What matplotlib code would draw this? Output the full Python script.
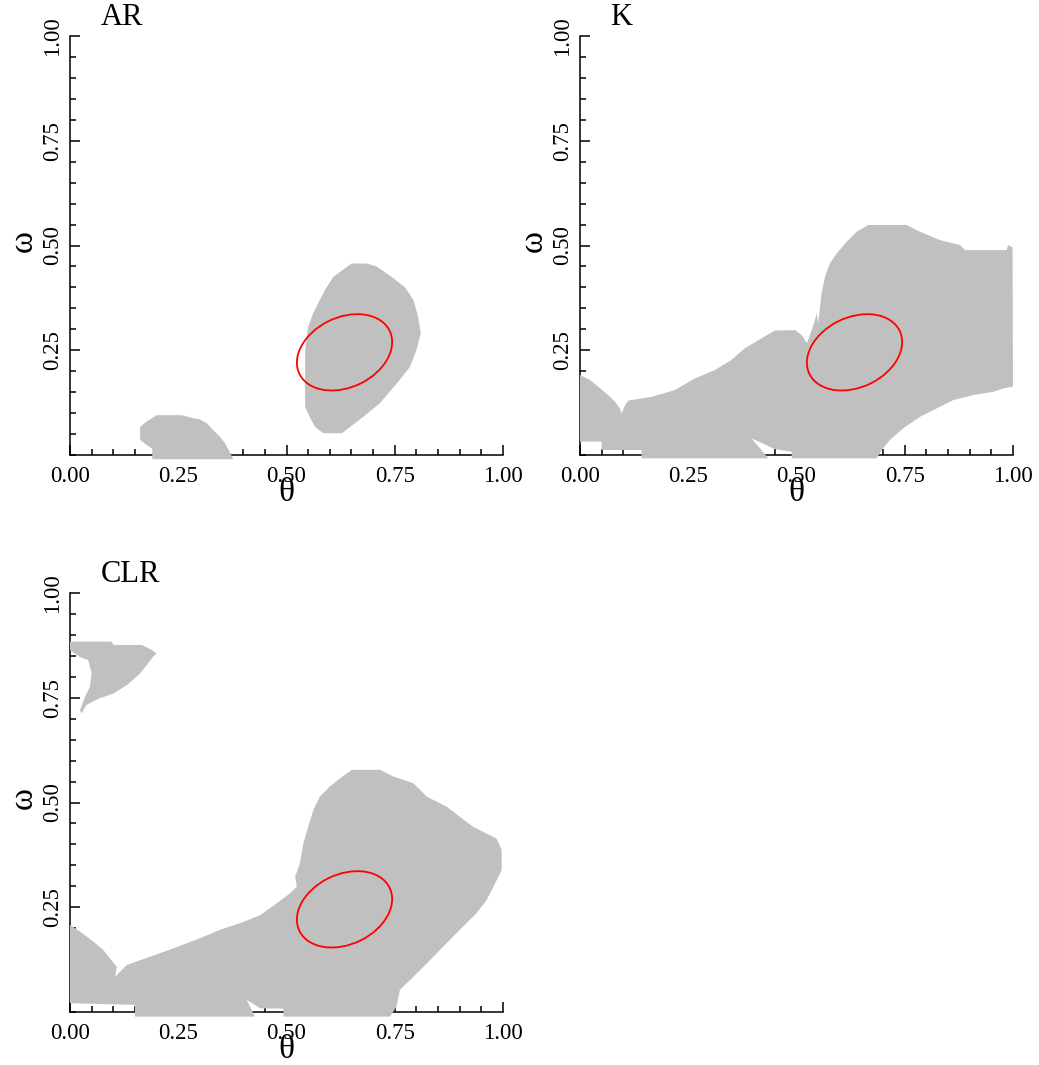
import numpy as np
import matplotlib
matplotlib.use("Agg")
import matplotlib.pyplot as plt
from matplotlib.patches import Ellipse
from matplotlib.ticker import MultipleLocator

plt.rcParams['font.family'] = ['Liberation Serif', 'DejaVu Serif']

# ---- data (theta, omega) ----
# AR: two grey regions
ar_big_theta = [0.650, 0.685, 0.708, 0.743, 0.774, 0.793, 0.804, 0.810, 0.800, 0.785, 0.755,
                0.716, 0.677, 0.647, 0.628, 0.585, 0.566, 0.554, 0.543, 0.543, 0.550, 0.562,
                0.577, 0.589, 0.608]
ar_big_omega = [0.457, 0.457, 0.450, 0.425, 0.400, 0.370, 0.330, 0.290, 0.250, 0.210, 0.171,
                0.124, 0.091, 0.067, 0.052, 0.052, 0.067, 0.090, 0.115, 0.250, 0.306, 0.339,
                0.370, 0.394, 0.425]
ar_small_theta = [0.200, 0.258, 0.270, 0.284, 0.300, 0.316, 0.330, 0.346, 0.358, 0.370, 0.377,
                  0.190, 0.190, 0.177, 0.162, 0.162, 0.177]
ar_small_omega = [0.095, 0.095, 0.092, 0.088, 0.085, 0.076, 0.060, 0.044, 0.028, 0.005, -0.010,
                  -0.010, 0.015, 0.024, 0.036, 0.067, 0.080]

# K: one grey region
k_theta = [0.000, 0.023, 0.042, 0.065, 0.081, 0.092, 0.096, 0.104, 0.112, 0.166, 0.219, 0.266,
           0.312, 0.350, 0.381, 0.412, 0.450, 0.497, 0.512, 0.524, 0.531, 0.539, 0.547, 0.550,
           0.558, 0.566, 0.577, 0.593, 0.616, 0.639, 0.666, 0.754, 0.785, 0.831, 0.878, 0.889,
           0.985, 0.989, 0.999, 1.000, 0.978, 0.955, 0.908, 0.862, 0.831, 0.785, 0.747, 0.716,
           0.697, 0.685, 0.489, 0.489, 0.450, 0.396, 0.435, 0.142, 0.142, 0.050, 0.050, 0.000]
k_omega = [0.191, 0.179, 0.163, 0.143, 0.127, 0.111, 0.099, 0.119, 0.130, 0.139, 0.155, 0.183,
           0.203, 0.227, 0.255, 0.274, 0.297, 0.298, 0.286, 0.267, 0.286, 0.310, 0.338, 0.314,
           0.386, 0.426, 0.457, 0.481, 0.509, 0.533, 0.549, 0.549, 0.533, 0.513, 0.501, 0.489,
           0.489, 0.501, 0.496, 0.163, 0.159, 0.151, 0.143, 0.131, 0.115, 0.091, 0.064, 0.036,
           0.012, -0.008, -0.008, 0.008, 0.014, 0.040, -0.008, -0.008, 0.012, 0.012, 0.032, 0.032]

# CLR: two grey regions
clr_top_theta = [0.000, 0.096, 0.100, 0.166, 0.189, 0.200, 0.192, 0.162, 0.131, 0.100, 0.069,
                 0.038, 0.027, 0.023, 0.035, 0.046, 0.050, 0.042, 0.023, 0.000]
clr_top_omega = [0.884, 0.884, 0.876, 0.876, 0.864, 0.856, 0.848, 0.808, 0.780, 0.760, 0.749,
                 0.733, 0.713, 0.720, 0.753, 0.776, 0.808, 0.840, 0.847, 0.864]
clr_main_theta = [0.000, 0.023, 0.054, 0.077, 0.092, 0.108, 0.104, 0.131, 0.185, 0.239, 0.300,
                  0.346, 0.393, 0.439, 0.477, 0.508, 0.524, 0.520, 0.531, 0.539, 0.550, 0.562,
                  0.577, 0.600, 0.624, 0.651, 0.716, 0.747, 0.793, 0.824, 0.870, 0.900, 0.931,
                  0.962, 0.985, 0.997, 0.997, 0.978, 0.962, 0.939, 0.900, 0.862, 0.824, 0.785,
                  0.762, 0.754, 0.739, 0.493, 0.493, 0.439, 0.408, 0.427, 0.150, 0.150, 0.000]
clr_main_omega = [0.208, 0.192, 0.168, 0.148, 0.128, 0.108, 0.084, 0.112, 0.132, 0.152, 0.176,
                  0.196, 0.212, 0.231, 0.259, 0.283, 0.299, 0.323, 0.355, 0.403, 0.442, 0.482,
                  0.514, 0.538, 0.558, 0.578, 0.578, 0.562, 0.546, 0.514, 0.490, 0.466, 0.442,
                  0.426, 0.414, 0.387, 0.339, 0.299, 0.267, 0.236, 0.196, 0.156, 0.116, 0.076,
                  0.053, 0.013, -0.011, -0.011, 0.008, 0.009, 0.029, -0.011, -0.011, 0.017, 0.021]

# red ellipse (same in every panel): centre and covariance-like shape
ell_center = (0.634, 0.245)
ell_sxx, ell_syy, ell_sxy = 0.0121, 0.0083, 0.0027

panels = [
    ("AR", [(ar_big_theta, ar_big_omega), (ar_small_theta, ar_small_omega)]),
    ("K", [(k_theta, k_omega)]),
    ("CLR", [(clr_top_theta, clr_top_omega), (clr_main_theta, clr_main_omega)]),
]

W, H = 1039, 1065
fig = plt.figure(figsize=(W / 100, H / 100), dpi=100)
boxes = [(70, 36), (580, 36), (70, 593)]  # left, top in pixels

# ellipse geometry from covariance
vals, vecs = np.linalg.eigh(np.array([[ell_sxx, ell_sxy], [ell_sxy, ell_syy]]))
ang = np.degrees(np.arctan2(vecs[1, 1], vecs[0, 1]))

for (name, regions), (lx, ty) in zip(panels, boxes):
    ax = fig.add_axes([lx / W, 1 - (ty + 419) / H, 433 / W, 419 / H])
    for th, om in regions:
        ax.fill(th, om, color='#c0c0c0', lw=0, clip_on=False, zorder=3)
    ax.add_patch(Ellipse(ell_center, 2 * np.sqrt(vals[1]), 2 * np.sqrt(vals[0]), angle=ang,
                         fill=False, edgecolor='red', lw=1.3, zorder=4))
    ax.set_xlim(0, 1)
    ax.set_ylim(0, 1)
    for s in ['top', 'right']:
        ax.spines[s].set_visible(False)
    for s in ['left', 'bottom']:
        ax.spines[s].set_linewidth(1.1)
    ax.set_xticks([0, 0.25, 0.5, 0.75, 1.0])
    ax.set_xticklabels(['0.00', '0.25', '0.50', '0.75', '1.00'])
    ax.set_yticks([0.25, 0.5, 0.75, 1.0])
    ax.set_yticklabels(['0.25', '0.50', '0.75', '1.00'], rotation=90, va='center')
    ax.xaxis.set_minor_locator(MultipleLocator(0.05))
    ax.yaxis.set_minor_locator(MultipleLocator(0.05))
    ax.tick_params(which='major', direction='in', length=7, width=1.1, labelsize=16.5)
    ax.tick_params(which='minor', direction='in', length=4, width=1.1)
    ax.tick_params(axis='x', which='major', pad=8)
    ax.tick_params(axis='y', which='major', pad=5)
    ax.text(0.07, 1.045, name, transform=ax.transAxes, ha='left', va='center', fontsize=22)
    ax.text(0.5, -0.09, 'θ', transform=ax.transAxes, ha='center', va='center', fontsize=24)
    ax.text(-0.108, 0.51, 'ω', transform=ax.transAxes, ha='center', va='center',
            fontsize=24, rotation=90)

fig.savefig('out.png', dpi=100)
